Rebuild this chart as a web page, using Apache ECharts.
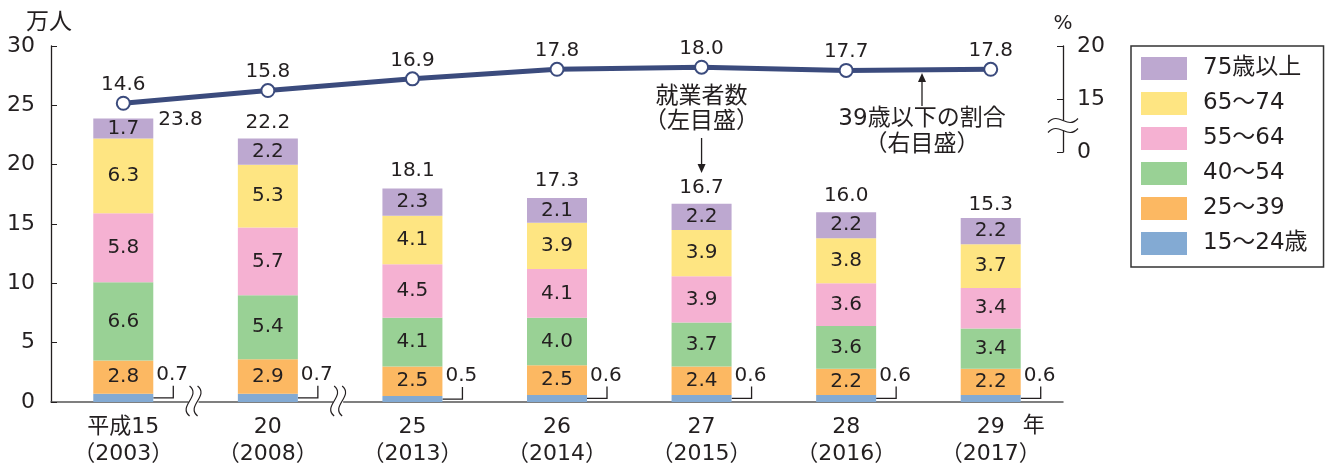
<!DOCTYPE html>
<html>
<head>
<meta charset="utf-8">
<script src="https://cdn.jsdelivr.net/npm/echarts@6/dist/echarts.min.js"></script>
<style>
  html, body { margin: 0; background: #fff; }
  #main { width: 1329px; height: 465px; }
</style>
</head>
<body>
<div id="main"></div>
<script>
// 年次
const years = ['平成15\n（2003）', '20\n（2008）', '25\n（2013）', '26\n（2014）', '27\n（2015）', '28\n（2016）', '29\n（2017）'];
// 年齢別就業者数（万人）
const age15_24 = [0.7, 0.7, 0.5, 0.6, 0.6, 0.6, 0.6];
const age25_39 = [2.8, 2.9, 2.5, 2.5, 2.4, 2.2, 2.2];
const age40_54 = [6.6, 5.4, 4.1, 4.0, 3.7, 3.6, 3.4];
const age55_64 = [5.8, 5.7, 4.5, 4.1, 3.9, 3.6, 3.4];
const age65_74 = [6.3, 5.3, 4.1, 3.9, 3.9, 3.8, 3.7];
const age75up = [1.7, 2.2, 2.3, 2.1, 2.2, 2.2, 2.2];
const totals = [23.8, 22.2, 18.1, 17.3, 16.7, 16.0, 15.3];
// 39歳以下の割合（%）
const under39Share = [14.6, 15.8, 16.9, 17.8, 18.0, 17.7, 17.8];

const FONT = "'DejaVu Sans', 'Noto Sans CJK JP', sans-serif";
const TXT = '#231f20';
const BAR_W = 60;

const chart = echarts.init(document.getElementById('main'));

const barSeries = (name, data, color, showLabel) => ({
  name: name,
  type: 'bar',
  stack: 'total',
  data: data,
  barWidth: BAR_W,
  itemStyle: { color: color },
  label: {
    show: showLabel,
    position: 'inside',
    color: TXT,
    fontSize: 20,
    fontFamily: FONT,
    formatter: p => p.value.toFixed(1),
  },
});

const option = {
  animation: false,
  textStyle: { fontFamily: FONT },
  grid: [
    { left: 51, right: 266, top: 46, bottom: 63, outerBoundsMode: 'none', containLabel: false },
    { left: 51, right: 266, top: 46, height: 106, outerBoundsMode: 'none', containLabel: false },
  ],
  legend: {
    orient: 'vertical',
    left: 1131,
    top: 46,
    padding: [11, 16, 12, 10],
    itemWidth: 46,
    itemHeight: 23,
    itemGap: 12,
    borderColor: '#333',
    borderWidth: 1.5,
    icon: 'rect',
    data: ['75歳以上', '65～74', '55～64', '40～54', '25～39', '15～24歳'],
    textStyle: { fontSize: 23, lineHeight: 23, color: TXT, fontFamily: FONT, padding: [0, 0, 0, 11] },
  },
  xAxis: [
    {
      type: 'category',
      gridIndex: 0,
      data: years,
      axisLine: { lineStyle: { color: '#555', width: 1.5 } },
      axisTick: { show: false },
      axisLabel: { color: TXT, fontSize: 22, lineHeight: 27, margin: 12, fontFamily: FONT },
    },
    {
      type: 'category',
      gridIndex: 1,
      data: years,
      show: false,
    },
  ],
  yAxis: [
    {
      type: 'value',
      gridIndex: 0,
      min: 0,
      max: 30,
      interval: 5,
      name: '万人',
      nameGap: 11,
      nameTextStyle: { color: TXT, fontSize: 23, fontFamily: FONT, padding: [0, 4, 0, 0] },
      axisLine: { show: true, lineStyle: { color: TXT, width: 1.3 } },
      axisTick: { show: true, inside: true, length: 6, lineStyle: { color: TXT } },
      axisLabel: { color: TXT, fontSize: 22, margin: 16, fontFamily: FONT },
      splitLine: { show: false },
    },
    {
      type: 'value',
      gridIndex: 1,
      position: 'right',
      min: 10,
      max: 20,
      interval: 5,
      name: '%',
      nameGap: 12,
      nameTextStyle: { color: TXT, fontSize: 20, fontFamily: FONT },
      axisLine: { show: true, lineStyle: { color: TXT, width: 1.3 } },
      axisTick: { show: true, inside: true, length: 6, lineStyle: { color: TXT } },
      axisLabel: {
        color: TXT, fontSize: 22, margin: 14, fontFamily: FONT,
        formatter: v => (v === 10 ? '0' : String(v)),
      },
      splitLine: { show: false },
    },
  ],
  series: [
    barSeries('15～24歳', age15_24, '#83aad3', false),
    barSeries('25～39', age25_39, '#fcb862', true),
    barSeries('40～54', age40_54, '#99d195', true),
    barSeries('55～64', age55_64, '#f5b1d2', true),
    barSeries('65～74', age65_74, '#fee582', true),
    barSeries('75歳以上', age75up, '#bda8d0', true),
    {
      // 15～24歳の値（棒の右に引き出し線）
      type: 'custom',
      xAxisIndex: 0,
      yAxisIndex: 0,
      data: age15_24.map((v, i) => [i, v]),
      renderItem: (params, api) => {
        const p = api.coord([api.value(0), api.value(1) / 2]);
        const x0 = p[0] + BAR_W / 2;
        const y0 = p[1];
        return {
          type: 'group',
          children: [
            {
              type: 'polyline',
              shape: { points: [[x0, y0], [x0 + 20, y0], [x0 + 20, y0 - 12]] },
              style: { stroke: TXT, lineWidth: 1.3, fill: null },
            },
            {
              type: 'text',
              style: {
                text: api.value(1).toFixed(1),
                x: x0 + 3,
                y: y0 - 13,
                align: 'left',
                verticalAlign: 'bottom',
                fill: TXT,
                font: '20px ' + FONT,
              },
            },
          ],
        };
      },
    },
    {
      // 合計
      type: 'scatter',
      xAxisIndex: 0,
      yAxisIndex: 0,
      symbolSize: 0,
      itemStyle: { opacity: 1 },
      data: totals.map((v, i) => i === 0
        ? { value: v, label: { position: 'right', distance: 35 } }
        : v),
      label: {
        show: true,
        position: 'top',
        distance: 6,
        color: TXT,
        fontSize: 20,
        fontFamily: FONT,
        formatter: p => p.value.toFixed(1),
      },
      silent: true,
    },
    {
      name: '39歳以下の割合',
      type: 'line',
      xAxisIndex: 1,
      yAxisIndex: 1,
      data: under39Share,
      symbol: 'circle',
      symbolSize: 13,
      lineStyle: { color: '#3b4b7d', width: 5 },
      itemStyle: { color: '#fff', borderColor: '#3b4b7d', borderWidth: 2 },
      label: {
        show: true,
        position: 'top',
        distance: 1,
        color: TXT,
        fontSize: 20,
        fontFamily: FONT,
        formatter: p => p.value.toFixed(1),
      },
      z: 5,
    },
  ],
};

chart.setOption(option);

// 注記・省略記号
const px = i => chart.convertToPixel({ xAxisIndex: 0 }, i);
const baseY = chart.convertToPixel({ yAxisIndex: 0 }, 0);
const rightX = 1329 - 266;
const gfx = [];

const xBreak = x => {
  gfx.push({ type: 'rect', shape: { x: x - 5, y: baseY - 3, width: 10, height: 6 }, style: { fill: '#fff' }, z: 100 });
  [-4, 4].forEach(d => {
    gfx.push({
      type: 'bezierCurve',
      shape: { x1: x + d, y1: baseY - 16, cpx1: x + d + 12, cpy1: baseY - 6, cpx2: x + d - 12, cpy2: baseY + 4, x2: x + d, y2: baseY + 14 },
      style: { stroke: TXT, lineWidth: 1.2, fill: null },
      z: 101,
    });
  });
};
xBreak((px(0) + px(1)) / 2 - 2);
xBreak((px(1) + px(2)) / 2 - 2);

// 右軸の省略記号
const ry = chart.convertToPixel({ yAxisIndex: 1 }, 12.5);
gfx.push({ type: 'rect', shape: { x: rightX - 3, y: ry - 5, width: 6, height: 10 }, style: { fill: '#fff' }, z: 100 });
[-5, 5].forEach(d => {
  gfx.push({
    type: 'bezierCurve',
    shape: { x1: rightX - 15, y1: ry + d + 2, cpx1: rightX - 4, cpy1: ry + d - 10, cpx2: rightX + 4, cpy2: ry + d + 10, x2: rightX + 15, y2: ry + d - 2 },
    style: { stroke: TXT, lineWidth: 1.2, fill: null },
    z: 101,
  });
});

// 年
gfx.push({
  type: 'text',
  style: { text: '年', x: px(6) + 43, y: baseY + 24, align: 'center', verticalAlign: 'middle', fill: TXT, font: '22px ' + FONT },
});

// 就業者数（左目盛）
const ax = px(4);
gfx.push({
  type: 'text',
  style: { text: '就業者数\n（左目盛）', x: ax, y: 110, align: 'center', verticalAlign: 'middle', lineHeight: 25, fill: TXT, font: '23px ' + FONT },
});
gfx.push({ type: 'line', shape: { x1: ax, y1: 138, x2: ax, y2: 166 }, style: { stroke: TXT, lineWidth: 1.3 } });
gfx.push({ type: 'polygon', shape: { points: [[ax - 4, 164], [ax + 4, 164], [ax, 173]] }, style: { fill: TXT } });

// 39歳以下の割合（右目盛）
const bx = 922;
gfx.push({
  type: 'text',
  style: { text: '39歳以下の割合\n（右目盛）', x: bx, y: 132, align: 'center', verticalAlign: 'middle', lineHeight: 26, fill: TXT, font: '23px ' + FONT },
});
gfx.push({ type: 'line', shape: { x1: bx, y1: 106, x2: bx, y2: 80 }, style: { stroke: TXT, lineWidth: 1.3 } });
gfx.push({ type: 'polygon', shape: { points: [[bx - 4, 82], [bx + 4, 82], [bx, 73]] }, style: { fill: TXT } });

chart.setOption({ graphic: gfx });
</script>
</body>
</html>
